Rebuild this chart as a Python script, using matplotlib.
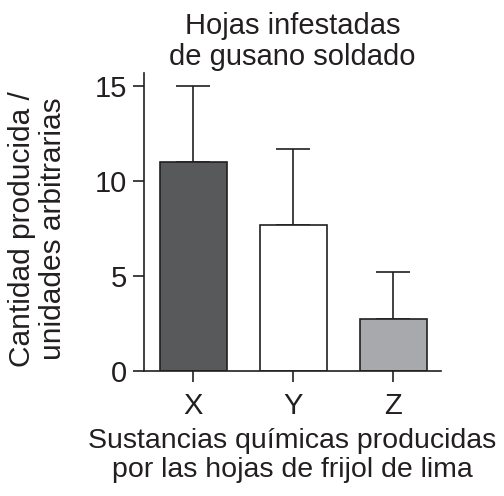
import numpy as np
import matplotlib.pyplot as plt

plt.rcParams['font.family'] = ['Liberation Sans', 'DejaVu Sans']

categories = ['X', 'Y', 'Z']
values = [11.0, 7.7, 2.75]
errors = [4.0, 4.0, 2.45]
colors = ['#58595b', '#ffffff', '#a7a9ac']

fig = plt.figure(figsize=(5.04, 4.96), dpi=100)
ax = fig.add_axes([0.286, 0.252, 0.589, 0.601])

x = np.arange(len(categories))
ax.bar(x, values, width=0.67, color=colors, edgecolor='#231f20', linewidth=1.2, zorder=2)
ax.errorbar(x, values, yerr=[np.zeros(len(errors)), errors], fmt='none',
            ecolor='#231f20', elinewidth=1.2, capsize=12, capthick=1.2, zorder=1)

ax.set_xlim(-0.49, 2.48)
ax.set_ylim(0, 15.7)
ax.set_yticks([0, 5, 10, 15])
ax.set_xticks(x)
ax.set_xticklabels(categories)
ax.tick_params(axis='both', direction='out', length=8, width=1.2, labelsize=21,
               color='#231f20', labelcolor='#231f20')
ax.tick_params(axis='y', pad=4)
ax.tick_params(axis='x', pad=7)
for s in ['top', 'right']:
    ax.spines[s].set_visible(False)
for s in ['left', 'bottom']:
    ax.spines[s].set_linewidth(1.2)
    ax.spines[s].set_color('#231f20')

ax.set_title('Hojas infestadas\nde gusano soldado', fontsize=21, pad=6,
             linespacing=1.12, color='#231f20')
ax.set_ylabel('Cantidad producida /\nunidades arbitrarias', fontsize=21.5,
              linespacing=1.12, color='#231f20')
ax.yaxis.set_label_coords(-0.26, 0.476)
ax.set_xlabel('Sustancias químicas producidas\npor las hojas de frijol de lima',
              fontsize=20.5, labelpad=6, linespacing=1.12, color='#231f20')

fig.savefig('out.png', dpi=100)
